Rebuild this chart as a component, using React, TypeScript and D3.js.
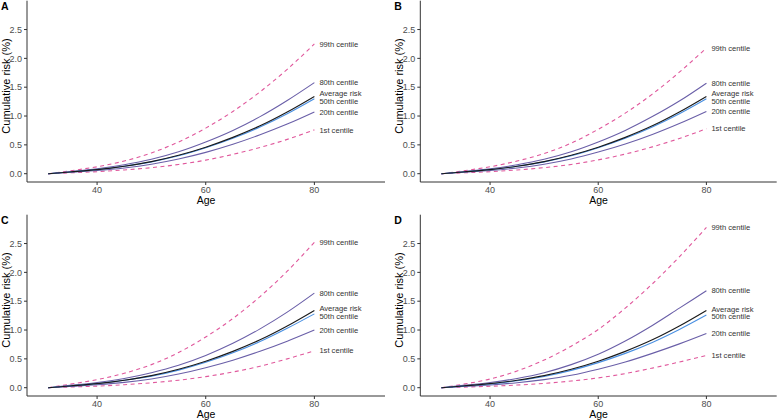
import React from "react";
import * as d3 from "d3";

const ages = [31, 35, 40, 45, 50, 55, 60, 65, 70, 75, 80];
const xTicks = [40, 60, 80];
const yTicks = [0, 0.5, 1.0, 1.5, 2.0, 2.5];
const panelLetters = ["A", "B", "C", "D"];
const seriesNames = ["99th centile", "80th centile", "Average risk", "50th centile", "20th centile", "1st centile"];

// Panel A
const a99 = [0, 0.05, 0.12, 0.22, 0.36, 0.55, 0.79, 1.08, 1.42, 1.81, 2.25];
const a80 = [0, 0.035, 0.085, 0.155, 0.25, 0.38, 0.55, 0.75, 0.99, 1.27, 1.58];
const aAvg = [0, 0.03, 0.07, 0.13, 0.21, 0.32, 0.46, 0.63, 0.83, 1.07, 1.34];
const a50 = [0, 0.03, 0.07, 0.13, 0.205, 0.31, 0.45, 0.615, 0.81, 1.04, 1.30];
const a20 = [0, 0.025, 0.055, 0.10, 0.165, 0.255, 0.37, 0.51, 0.675, 0.86, 1.07];
const a1 = [0, 0.015, 0.035, 0.065, 0.105, 0.16, 0.235, 0.335, 0.455, 0.595, 0.76];
// Panel B
const b99 = [0, 0.05, 0.12, 0.22, 0.35, 0.53, 0.77, 1.05, 1.38, 1.76, 2.18];
const b80 = [0, 0.035, 0.085, 0.155, 0.25, 0.38, 0.55, 0.75, 0.99, 1.26, 1.57];
const bAvg = [0, 0.03, 0.07, 0.13, 0.21, 0.32, 0.46, 0.63, 0.83, 1.07, 1.34];
const b50 = [0, 0.03, 0.07, 0.13, 0.205, 0.31, 0.45, 0.615, 0.81, 1.04, 1.30];
const b20 = [0, 0.025, 0.055, 0.10, 0.165, 0.255, 0.375, 0.515, 0.68, 0.87, 1.08];
const b1 = [0, 0.015, 0.035, 0.065, 0.105, 0.16, 0.24, 0.34, 0.465, 0.61, 0.78];
// Panel C
const c99 = [0, 0.06, 0.14, 0.25, 0.40, 0.61, 0.88, 1.20, 1.58, 2.02, 2.52];
const c80 = [0, 0.04, 0.09, 0.16, 0.26, 0.39, 0.56, 0.77, 1.02, 1.31, 1.64];
const cAvg = [0, 0.03, 0.07, 0.13, 0.21, 0.32, 0.46, 0.63, 0.83, 1.07, 1.34];
const c50 = [0, 0.03, 0.07, 0.13, 0.20, 0.305, 0.44, 0.605, 0.80, 1.03, 1.28];
const c20 = [0, 0.022, 0.052, 0.092, 0.152, 0.237, 0.347, 0.477, 0.632, 0.807, 1.00];
const c1 = [0, 0.012, 0.028, 0.052, 0.085, 0.13, 0.192, 0.272, 0.372, 0.50, 0.64];
// Panel D
const d99 = [0, 0.06, 0.15, 0.29, 0.48, 0.72, 1.01, 1.38, 1.80, 2.27, 2.78];
const d80 = [0, 0.04, 0.09, 0.16, 0.26, 0.40, 0.58, 0.81, 1.08, 1.38, 1.68];
const dAvg = [0, 0.03, 0.07, 0.13, 0.21, 0.32, 0.46, 0.63, 0.83, 1.07, 1.34];
const d50 = [0, 0.028, 0.065, 0.12, 0.195, 0.30, 0.435, 0.595, 0.785, 1.01, 1.26];
const d20 = [0, 0.02, 0.048, 0.086, 0.14, 0.215, 0.32, 0.445, 0.595, 0.76, 0.94];
const d1 = [0, 0.01, 0.025, 0.046, 0.075, 0.115, 0.17, 0.245, 0.34, 0.445, 0.56];

const panelData = [
  [a99, a80, aAvg, a50, a20, a1],
  [b99, b80, bAvg, b50, b20, b1],
  [c99, c80, cAvg, c50, c20, c1],
  [d99, d80, dAvg, d50, d20, d1],
];

const PINK = "#e0589c";
const PURPLE = "#6a5fa8";
const seriesStyle = [
  { color: PINK, dash: "4,3.5" },
  { color: PURPLE, dash: null },
  { color: "#1a1a1a", dash: null },
  { color: "#4a90e2", dash: null },
  { color: PURPLE, dash: null },
  { color: PINK, dash: "4,3.5" },
];
// draw order (back to front)
const drawOrder = [0, 5, 1, 4, 3, 2];

const FONT = "'Liberation Sans', Arial, Helvetica, sans-serif";

const offsets = [
  [0, 0],
  [393.3, 0],
  [0, 214],
  [393.3, 214],
];

function Panel({ idx }: { idx: number }) {
  const [ox, oy] = offsets[idx];
  const left = 27;
  const right = idx % 2 === 0 ? 385 : 383.4;
  const top = 0.7;
  const bottom = 182;
  const x = d3.scaleLinear().domain([27.1, 93]).range([left, right]);
  const y = d3.scaleLinear().domain([-0.144, 3.0]).range([bottom, top]);
  const line = d3
    .line<number>()
    .x((_, i) => x(ages[i]))
    .y((v) => y(v))
    .curve(d3.curveMonotoneX);
  const data = panelData[idx];

  // label positions with simple repulsion
  const lastIdx = ages.length - 1;
  const labels = data.map((s, i) => ({ i, y: y(s[lastIdx]) }));
  const sorted = [...labels].sort((p, q) => p.y - q.y);
  const minGap = 7.6;
  for (let iter = 0; iter < 50; iter++) {
    for (let k = 1; k < sorted.length; k++) {
      const gap = sorted[k].y - sorted[k - 1].y;
      if (gap < minGap) {
        const push = (minGap - gap) / 2;
        sorted[k].y += push;
        sorted[k - 1].y -= push;
      }
    }
  }

  return (
    <g transform={`translate(${ox},${oy})`}>
      {drawOrder.map((si) => (
        <path
          key={si}
          d={line(data[si]) || ""}
          fill="none"
          stroke={seriesStyle[si].color}
          strokeWidth={1.1}
          strokeDasharray={seriesStyle[si].dash || undefined}
        />
      ))}
      {labels.map((l) => (
        <text
          key={l.i}
          x={x(80) + 5}
          y={l.y}
          dy="0.35em"
          fontSize={7.6}
          fill="#333333"
          fontFamily={FONT}
        >
          {seriesNames[l.i]}
        </text>
      ))}
      {/* axes */}
      <line x1={left} x2={left} y1={top} y2={bottom} stroke="#333" strokeWidth={1} />
      <line x1={left} x2={right} y1={bottom} y2={bottom} stroke="#333" strokeWidth={1} />
      {yTicks.map((t) => (
        <g key={t}>
          <line x1={left - 3} x2={left} y1={y(t)} y2={y(t)} stroke="#333" strokeWidth={1} />
          <text
            x={left - 5}
            y={y(t)}
            dy="0.35em"
            textAnchor="end"
            fontSize={9}
            fill="#4d4d4d"
            fontFamily={FONT}
          >
            {t.toFixed(1)}
          </text>
        </g>
      ))}
      {xTicks.map((t) => (
        <g key={t}>
          <line x1={x(t)} x2={x(t)} y1={bottom} y2={bottom + 3} stroke="#333" strokeWidth={1} />
          <text
            x={x(t)}
            y={bottom + 10.5}
            textAnchor="middle"
            fontSize={9}
            fill="#4d4d4d"
            fontFamily={FONT}
          >
            {t}
          </text>
        </g>
      ))}
      <text
        x={(left + right) / 2}
        y={bottom + 22}
        textAnchor="middle"
        fontSize={10.5}
        fill="#000"
        fontFamily={FONT}
      >
        Age
      </text>
      <text
        transform={`translate(10,86) rotate(-90)`}
        textAnchor="middle"
        fontSize={11}
        fill="#000"
        fontFamily={FONT}
      >
        Cumulative risk (%)
      </text>
      <text x={1} y={10} fontSize={10.5} fontWeight="bold" fill="#000" fontFamily={FONT}>
        {panelLetters[idx]}
      </text>
    </g>
  );
}

export default function App() {
  return (
    <svg
      width={778}
      height={420}
      style={{ position: "absolute", left: 0, top: 0, background: "#fff" }}
    >
      <rect width={778} height={420} fill="#fff" />
      {[0, 1, 2, 3].map((i) => (
        <Panel key={i} idx={i} />
      ))}
    </svg>
  );
}
